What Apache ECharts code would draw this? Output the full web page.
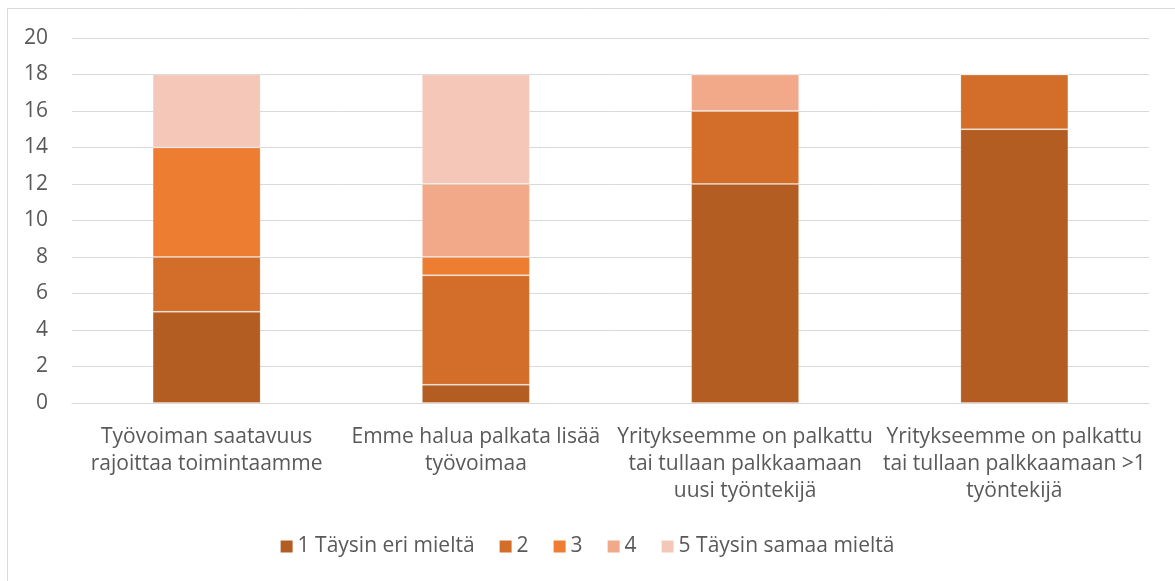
<!DOCTYPE html>
<html><head><meta charset="utf-8">
<script src="https://cdn.jsdelivr.net/npm/echarts@6/dist/echarts.min.js"></script>
<style>html,body{margin:0;padding:0;background:#fff}#c{width:1175px;height:581px}</style>
</head><body><div id="c"></div>
<script>
const categories = [
  "Työvoiman saatavuus\nrajoittaa toimintaamme",
  "Emme halua palkata lisää\ntyövoimaa",
  "Yritykseemme on palkattu\ntai tullaan palkkaamaan\nuusi työntekijä",
  "Yritykseemme on palkattu\ntai tullaan palkkaamaan >1\ntyöntekijä"
];
const seriesNames = ["1 Täysin eri mieltä", "2", "3", "4", "5 Täysin samaa mieltä"];
const s1 = [5, 1, 12, 15];
const s2 = [3, 6, 4, 3];
const s3 = [6, 1, 0, 0];
const s4 = [0, 4, 2, 0];
const s5 = [4, 6, 0, 0];
const colors = ["#B35D22", "#D26E2A", "#ED7D31", "#F2A98A", "#F5C7B8"];

const font = "'Open Sans', 'Liberation Sans', sans-serif";
const chart = echarts.init(document.getElementById('c'));
const vals = [s1, s2, s3, s4, s5];
chart.setOption({
  animation: false,
  color: colors,
  graphic: [{type: 'rect', shape: {x: 7.5, y: 8.5, width: 1200, height: 600}, style: {fill: 'none', stroke: '#d9d9d9', lineWidth: 1}}],
  grid: {left: 72, right: 26, top: 38, bottom: 178},
  legend: {
    bottom: 19, left: 'center', itemWidth: 12, itemHeight: 12, itemGap: 25, itemStyle: {borderWidth: 0},
    icon: 'rect',
    textStyle: {color: '#595959', fontSize: 21, fontFamily: font, padding: [0, 0, 0, 0]},
    data: seriesNames
  },
  xAxis: {
    type: 'category', data: categories,
    axisLine: {lineStyle: {color: '#d9d9d9', width: 1}},
    axisTick: {show: false},
    axisLabel: {color: '#595959', fontSize: 21, fontFamily: font, lineHeight: 27, margin: 21, interval: 0}
  },
  yAxis: {
    type: 'value', min: 0, max: 20, interval: 2,
    axisLine: {show: false}, axisTick: {show: false},
    splitLine: {lineStyle: {color: '#d9d9d9', width: 1}},
    axisLabel: {color: '#595959', fontSize: 21, fontFamily: font, margin: 24}
  },
  series: seriesNames.map((n, i) => ({
    name: n, type: 'bar', stack: 'a', barWidth: 108,
    data: vals[i],
    itemStyle: {borderColor: 'rgba(255,255,255,0.2)', borderWidth: 1}
  }))
});
</script></body></html>
